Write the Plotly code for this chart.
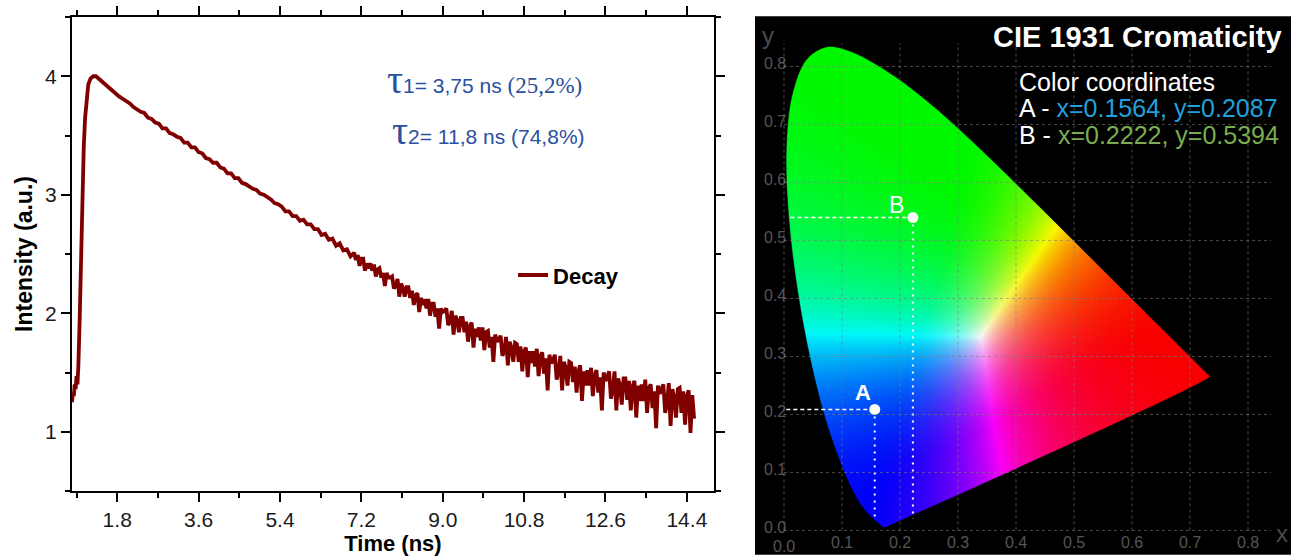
import base64, struct, zlib
import numpy as np
import plotly.graph_objects as go

# ---------------- Data: fluorescence decay ----------------
decay_time = [
    0.80, 0.82, 0.84, 0.86, 0.88, 0.90, 0.92, 0.94, 0.97, 1.00,
    1.03, 1.06, 1.09, 1.12, 1.16, 1.21, 1.27, 1.33, 1.39,
    1.44, 1.52, 1.60, 1.68, 1.76, 1.84, 1.92, 2.00, 2.08, 2.16,
    2.24, 2.32, 2.40, 2.48, 2.56, 2.64, 2.72, 2.80, 2.88, 2.96,
    3.04, 3.12, 3.20, 3.28, 3.36, 3.44, 3.52, 3.60, 3.68, 3.76,
    3.84, 3.92, 4.00, 4.08, 4.16, 4.24, 4.32, 4.40, 4.48, 4.56,
    4.64, 4.72, 4.80, 4.88, 4.96, 5.04, 5.12, 5.20, 5.28, 5.36,
    5.44, 5.52, 5.60, 5.68, 5.76, 5.84, 5.92, 6.00, 6.08, 6.16,
    6.24, 6.32, 6.40, 6.48, 6.56, 6.64, 6.72, 6.80, 6.88, 6.96,
    7.04, 7.08, 7.12, 7.16, 7.20, 7.24, 7.28, 7.32, 7.36, 7.40,
    7.44, 7.48, 7.52, 7.56, 7.60, 7.64, 7.68, 7.72, 7.76, 7.80,
    7.84, 7.88, 7.92, 7.96, 8.00, 8.04, 8.08, 8.12, 8.16, 8.20,
    8.24, 8.28, 8.32, 8.36, 8.40, 8.44, 8.48, 8.52, 8.56, 8.60,
    8.64, 8.68, 8.72, 8.76, 8.80, 8.84, 8.88, 8.92, 8.96, 9.00,
    9.04, 9.08, 9.12, 9.16, 9.20, 9.24, 9.28, 9.32, 9.36, 9.40,
    9.44, 9.48, 9.52, 9.56, 9.60, 9.64, 9.68, 9.72, 9.76, 9.80,
    9.84, 9.88, 9.92, 9.96, 10.00, 10.04, 10.08, 10.12, 10.16, 10.20,
    10.24, 10.28, 10.32, 10.36, 10.40, 10.44, 10.48, 10.52, 10.56, 10.60,
    10.64, 10.68, 10.72, 10.76, 10.80, 10.84, 10.88, 10.92, 10.96, 11.00,
    11.04, 11.08, 11.12, 11.16, 11.20, 11.24, 11.28, 11.32, 11.36, 11.40,
    11.44, 11.48, 11.52, 11.56, 11.60, 11.64, 11.68, 11.72, 11.76, 11.80,
    11.84, 11.88, 11.92, 11.96, 12.00, 12.04, 12.08, 12.12, 12.16, 12.20,
    12.24, 12.28, 12.32, 12.36, 12.40, 12.44, 12.48, 12.52, 12.56, 12.60,
    12.64, 12.68, 12.72, 12.76, 12.80, 12.84, 12.88, 12.92, 12.96, 13.00,
    13.04, 13.08, 13.12, 13.16, 13.20, 13.24, 13.28, 13.32, 13.36, 13.40,
    13.44, 13.48, 13.52, 13.56, 13.60, 13.64, 13.68, 13.72, 13.76, 13.80,
    13.84, 13.88, 13.92, 13.96, 14.00, 14.04, 14.08, 14.12, 14.16, 14.20,
    14.24, 14.28, 14.32, 14.36, 14.40, 14.44, 14.48, 14.52, 14.56,
]
decay_intensity = [
    1.25, 1.33, 1.30, 1.40, 1.36, 1.47, 1.40, 1.55, 1.95, 2.50,
    3.00, 3.40, 3.65, 3.82, 3.93, 3.98, 4.00, 4.00, 3.98,
    3.96, 3.93, 3.91, 3.88, 3.86, 3.83, 3.81, 3.79, 3.77, 3.74,
    3.72, 3.70, 3.69, 3.65, 3.64, 3.61, 3.60, 3.56, 3.56, 3.52,
    3.51, 3.49, 3.48, 3.44, 3.44, 3.40, 3.40, 3.36, 3.35, 3.31,
    3.30, 3.27, 3.27, 3.23, 3.22, 3.18, 3.18, 3.14, 3.14, 3.10,
    3.09, 3.07, 3.05, 3.04, 3.01, 3.00, 2.98, 2.96, 2.93, 2.92,
    2.90, 2.86, 2.86, 2.82, 2.82, 2.78, 2.79, 2.75, 2.75, 2.71,
    2.71, 2.66, 2.67, 2.62, 2.63, 2.57, 2.59, 2.53, 2.54, 2.48,
    2.51, 2.45, 2.49, 2.40, 2.46, 2.46, 2.36, 2.42, 2.38, 2.42,
    2.36, 2.41, 2.31, 2.37, 2.38, 2.30, 2.34, 2.23, 2.34, 2.30,
    2.30, 2.31, 2.21, 2.23, 2.29, 2.14, 2.25, 2.21, 2.14, 2.22,
    2.22, 2.13, 2.19, 2.07, 2.15, 2.17, 2.01, 2.13, 2.07, 2.12,
    2.04, 2.12, 1.98, 2.08, 2.08, 1.97, 2.04, 1.87, 2.04, 2.01,
    2.02, 2.04, 1.90, 1.93, 2.02, 1.82, 1.98, 1.94, 1.84, 1.96,
    1.96, 1.84, 1.93, 1.76, 1.89, 1.92, 1.71, 1.87, 1.80, 1.88,
    1.77, 1.88, 1.69, 1.84, 1.85, 1.71, 1.80, 1.59, 1.82, 1.76,
    1.78, 1.81, 1.64, 1.68, 1.80, 1.56, 1.76, 1.71, 1.59, 1.75,
    1.74, 1.59, 1.72, 1.51, 1.68, 1.71, 1.46, 1.68, 1.58, 1.68,
    1.55, 1.70, 1.47, 1.64, 1.67, 1.49, 1.62, 1.35, 1.65, 1.58,
    1.60, 1.65, 1.44, 1.50, 1.64, 1.35, 1.59, 1.54, 1.39, 1.59,
    1.58, 1.42, 1.55, 1.33, 1.51, 1.56, 1.26, 1.51, 1.39, 1.52,
    1.39, 1.54, 1.30, 1.48, 1.52, 1.33, 1.46, 1.18, 1.50, 1.43,
    1.46, 1.51, 1.28, 1.35, 1.51, 1.18, 1.45, 1.39, 1.23, 1.45,
    1.45, 1.27, 1.43, 1.18, 1.38, 1.43, 1.12, 1.39, 1.26, 1.40,
    1.26, 1.44, 1.16, 1.37, 1.40, 1.20, 1.34, 1.03, 1.39, 1.32,
    1.36, 1.40, 1.16, 1.23, 1.41, 1.05, 1.36, 1.29, 1.12, 1.36,
    1.37, 1.16, 1.34, 1.06, 1.30, 1.35, 0.99, 1.31, 1.11,
]
time_ticks = [1.8, 3.6, 5.4, 7.2, 9.0, 10.8, 12.6, 14.4]
intensity_ticks = [1, 2, 3, 4]

# ---------------- Data: CIE 1931 spectral locus (380-700 nm) ----------------
locus_x = [0.1741, 0.1738, 0.1733, 0.1726, 0.1714, 0.1689, 0.1644, 0.1611, 0.1566, 0.1510,
           0.1440, 0.1355, 0.1241, 0.1096, 0.0913, 0.0687, 0.0454, 0.0235, 0.0082, 0.0039,
           0.0139, 0.0389, 0.0743, 0.1142, 0.1547, 0.1929, 0.2296, 0.2658, 0.3016, 0.3373,
           0.3731, 0.4087, 0.4441, 0.4788, 0.5125, 0.5448, 0.5752, 0.6029, 0.6270, 0.6482,
           0.6658, 0.6801, 0.6915, 0.7079, 0.7190, 0.7260, 0.7300, 0.7334, 0.7347]
locus_y = [0.0050, 0.0049, 0.0048, 0.0048, 0.0051, 0.0069, 0.0109, 0.0138, 0.0177, 0.0227,
           0.0297, 0.0399, 0.0578, 0.0868, 0.1327, 0.2007, 0.2950, 0.4127, 0.5384, 0.6548,
           0.7502, 0.8120, 0.8338, 0.8262, 0.8059, 0.7816, 0.7543, 0.7243, 0.6923, 0.6589,
           0.6245, 0.5896, 0.5547, 0.5202, 0.4866, 0.4544, 0.4242, 0.3965, 0.3725, 0.3514,
           0.3340, 0.3197, 0.3083, 0.2920, 0.2809, 0.2740, 0.2700, 0.2666, 0.2653]

point_names = ["A", "B"]
point_x = [0.1564, 0.2222]
point_y = [0.2087, 0.5394]
cie_ticks = [0.0, 0.1, 0.2, 0.3, 0.4, 0.5, 0.6, 0.7, 0.8]

# ---------------- Chromaticity colour image ----------------
primaries = [(0.64, 0.33), (0.30, 0.60), (0.15, 0.06)]
white_xy = (0.340, 0.335)

def xyz(x, y):
    return np.array([x / y, 1.0, (1 - x - y) / y])

P = np.stack([xyz(*p) for p in primaries], axis=1)
S = np.linalg.solve(P, xyz(*white_xy))
Minv = np.linalg.inv(P * S)

img_x0, img_y0, img_d = -0.006, -0.006, 0.0015
nx, ny = 505, 572
gx = img_x0 + np.arange(nx) * img_d
gy = np.maximum(img_y0 + np.arange(ny) * img_d, 0.002)
XX, YY = np.meshgrid(gx, gy)
XYZ = np.stack([XX / YY, np.ones_like(XX), (1 - XX - YY) / YY], axis=-1)
rgb = XYZ @ Minv.T
rgb = np.clip(rgb, 0, None)
rgb = rgb / np.maximum(rgb.max(axis=-1, keepdims=True), 1e-9)
rgb = rgb ** 1.35
rgb8 = (rgb * 248).clip(0, 255).astype(np.uint8)

def png_uri(arr):
    h, w, _ = arr.shape
    raw = b"".join(b"\x00" + arr[i].tobytes() for i in range(h))
    def chunk(t, d):
        return struct.pack(">I", len(d)) + t + d + struct.pack(">I", zlib.crc32(t + d) & 0xFFFFFFFF)
    png = (b"\x89PNG\r\n\x1a\n" + chunk(b"IHDR", struct.pack(">IIBBBBB", w, h, 8, 2, 0, 0, 0))
           + chunk(b"IDAT", zlib.compress(raw, 9)) + chunk(b"IEND", b""))
    return "data:image/png;base64," + base64.b64encode(png).decode()

fig = go.Figure()

# ---------------- Left panel ----------------
fig.add_trace(go.Scatter(
    x=decay_time, y=decay_intensity, mode="lines", name="<b>Decay</b>",
    line=dict(color="#800000", width=3.8), xaxis="x", yaxis="y", showlegend=True,
))

# ---------------- Right panel ----------------
fig.add_trace(go.Image(source=png_uri(rgb8), x0=img_x0, dx=img_d, y0=img_y0, dy=img_d,
                       zsmooth="fast", xaxis="x2", yaxis="y2", hoverinfo="skip"))
fx0, fx1, fy0, fy1 = -0.02, 0.76, -0.02, 0.86
fig.add_trace(go.Scatter(x=[fx0, fx0, fx1, fx1, fx0], y=[fy0, fy1, fy1, fy0, fy0],
                         mode="lines", line=dict(width=0, color="black"),
                         xaxis="x2", yaxis="y2", showlegend=False, hoverinfo="skip"))
fig.add_trace(go.Scatter(x=locus_x + [locus_x[0]], y=locus_y + [locus_y[0]], mode="lines",
                         line=dict(width=0.5, color="black", shape="spline"),
                         fill="tonext", fillcolor="black",
                         xaxis="x2", yaxis="y2", showlegend=False, hoverinfo="skip"))

guide_start = [0.004, 0.011]
for i in range(2):
    fig.add_trace(go.Scatter(x=[guide_start[i], point_x[i]], y=[point_y[i], point_y[i]],
                             mode="lines", line=dict(color="white", width=1.5, dash="4px,3px"),
                             xaxis="x2", yaxis="y2", showlegend=False, hoverinfo="skip"))
    fig.add_trace(go.Scatter(x=[point_x[i], point_x[i]], y=[point_y[i], 0.02],
                             mode="lines", line=dict(color="white", width=2, dash="2px,5px"),
                             xaxis="x2", yaxis="y2", showlegend=False, hoverinfo="skip"))
fig.add_trace(go.Scatter(x=point_x, y=point_y, mode="markers",
                         marker=dict(color="white", size=11),
                         xaxis="x2", yaxis="y2", showlegend=False, hoverinfo="skip"))

shapes = [dict(type="rect", xref="x2 domain", yref="y2 domain", x0=0, x1=1, y0=0, y1=1,
               fillcolor="black", line=dict(width=0), layer="below")]
for t in cie_ticks:
    shapes.append(dict(type="line", xref="x2", yref="y2", x0=t, x1=t, y0=0, y1=0.84,
                       line=dict(color="rgba(125,125,125,0.6)", width=1, dash="dot"), layer="above"))
    shapes.append(dict(type="line", xref="x2", yref="y2", x0=0, x1=0.84, y0=t, y1=t,
                       line=dict(color="rgba(125,125,125,0.6)", width=1, dash="dot"), layer="above"))

blue_txt = "#2a50a0"
tick_grey = "#555555"
annotations = [
    dict(xref="x", yref="y", x=7.72, y=3.97, xanchor="left", yanchor="middle", showarrow=False,
         text='<span style="font-family:Liberation Serif;font-size:40px">τ</span>1= 3,75 ns'
              '<span style="font-family:Liberation Serif;font-size:23px"> (25,2%)</span>',
         font=dict(family="Liberation Sans, Arial", size=21, color=blue_txt)),
    dict(xref="x", yref="y", x=7.83, y=3.54, xanchor="left", yanchor="middle", showarrow=False,
         text='<span style="font-family:Liberation Serif;font-size:40px">τ</span>2= 11,8 ns (74,8%)',
         font=dict(family="Liberation Sans, Arial", size=21, color=blue_txt)),
    dict(xref="x2", yref="y2", x=0.357, y=0.850, xanchor="left", yanchor="middle", showarrow=False,
         text="<b>CIE 1931 Cromaticity Diagram</b>",
         font=dict(family="Liberation Sans, Arial", size=29, color="white")),
    dict(xref="x2", yref="y2", x=0.401, y=0.773, xanchor="left", yanchor="middle", showarrow=False,
         text="Color coordinates", font=dict(family="Liberation Sans, Arial", size=25, color="white")),
    dict(xref="x2", yref="y2", x=0.401, y=0.728, xanchor="left", yanchor="middle", showarrow=False,
         text='A - <span style="color:#22a0dc">x=%.4f, y=%.4f</span>' % (point_x[0], point_y[0]),
         font=dict(family="Liberation Sans, Arial", size=25, color="white")),
    dict(xref="x2", yref="y2", x=0.401, y=0.682, xanchor="left", yanchor="middle", showarrow=False,
         text='B - <span style="color:#7aac50">x=%.4f, y=%.4f</span>' % (point_x[1], point_y[1]),
         font=dict(family="Liberation Sans, Arial", size=25, color="white")),
    dict(xref="x2", yref="y2", x=point_x[0], y=point_y[0], xshift=-12, yshift=17, showarrow=False,
         text="<b>" + point_names[0] + "</b>", font=dict(family="Liberation Sans, Arial", size=22, color="white")),
    dict(xref="x2", yref="y2", x=point_x[1], y=point_y[1], xshift=-16, yshift=13, showarrow=False,
         text=point_names[1], font=dict(family="Liberation Sans, Arial", size=23, color="white")),
    dict(xref="x2", yref="y2", x=-0.028, y=0.853, showarrow=False, text="y",
         font=dict(family="Liberation Sans, Arial", size=24, color="#4a4a4a")),
    dict(xref="x2", yref="y2", x=0.859, y=-0.006, showarrow=False, text="x",
         font=dict(family="Liberation Sans, Arial", size=24, color="#4a4a4a")),
    # x-axis "0.0" label (plotly hides the inside label that meets the y axis corner)
    dict(xref="x2", yref="paper", x=cie_ticks[0], y=0.0, yanchor="bottom", yshift=0, borderpad=0,
         showarrow=False, text="%.1f" % cie_ticks[0],
         font=dict(family="Liberation Sans, Arial", size=16, color=tick_grey)),
]

axis_common = dict(showline=True, linewidth=2, linecolor="black", mirror="ticks",
                   ticks="outside", tickwidth=2, ticklen=9, tickcolor="black",
                   showgrid=False, zeroline=False,
                   tickfont=dict(family="Liberation Sans, Arial", size=21, color="#1a1a1a"))

fig.update_layout(
    width=1291, height=556, margin=dict(l=0, r=0, t=0, b=0),
    paper_bgcolor="white", plot_bgcolor="white",
    font=dict(family="Liberation Sans, Arial"),
    xaxis=dict(domain=[72 / 1291, 714 / 1291], range=[0.8, 15.0], anchor="y",
               tickvals=time_ticks, ticktext=["%.1f" % t for t in time_ticks],
               minor=dict(dtick=0.9, tick0=0, ticks="outside", ticklen=5, tickwidth=2, tickcolor="black"),
               title=dict(text="<b>Time (ns)</b>", font=dict(size=22, color="black"), standoff=2),
               **axis_common),
    yaxis=dict(domain=[65 / 556, 539 / 556], range=[0.5, 4.5], anchor="x",
               tickvals=intensity_ticks,
               minor=dict(dtick=0.5, tick0=0, ticks="outside", ticklen=5, tickwidth=2, tickcolor="black"),
               title=dict(text="<b>Intensity (a.u.)</b>", font=dict(size=23, color="black"), standoff=6),
               **axis_common),
    xaxis2=dict(domain=[755 / 1291, 1.0], range=[-0.05, 0.8741], anchor="y2",
                tickvals=cie_ticks, ticktext=["%.1f" % t for t in cie_ticks],
                ticklabelposition="inside", ticks="", showline=False, showgrid=False, zeroline=False,
                tickfont=dict(family="Liberation Sans, Arial", size=16, color=tick_grey)),
    yaxis2=dict(domain=[0, 541 / 556], range=[-0.0417, 0.8863], anchor="x2",
                tickvals=cie_ticks, ticktext=["%.1f" % t for t in cie_ticks],
                ticklabelposition="inside", ticks="", showline=False, showgrid=False, zeroline=False,
                ticklabelstandoff=6, ticklabelshift=-3,
                tickfont=dict(family="Liberation Sans, Arial", size=16, color=tick_grey)),
    legend=dict(x=0.3974, y=0.505, xanchor="left", yanchor="middle", bgcolor="rgba(0,0,0,0)",
                font=dict(family="Liberation Sans, Arial", size=22, color="black")),
    shapes=shapes, annotations=annotations,
)

fig.write_html("out.html", config={"displayModeBar": False},
               post_script="document.body.style.margin='0';document.body.style.overflow='hidden';")
